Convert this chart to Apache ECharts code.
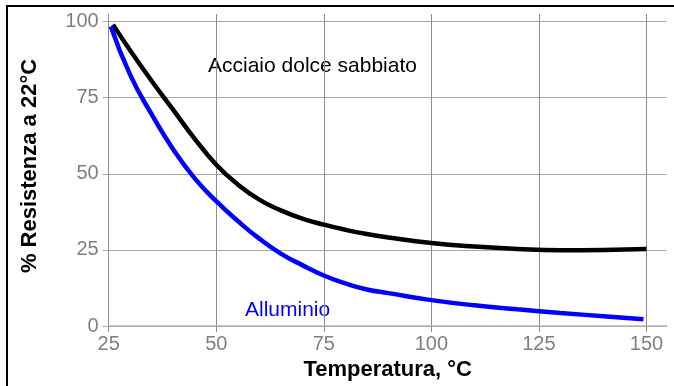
<!DOCTYPE html>
<html>
<head>
<meta charset="utf-8">
<script src="https://cdn.jsdelivr.net/npm/echarts@6/dist/echarts.min.js"></script>
<style>
	html, body { margin: 0; padding: 0; background: #fff; }
	#tuxing { width: 674px; height: 386px; }
</style>
</head>
<body>
<div id="tuxing"></div>
<script>
// temperature (°C) and % resistance at 22°C
var tempAcciaio = [26, 30, 35, 40, 45, 50, 55, 60, 65, 70, 75, 80, 85, 90, 100, 110, 120, 130, 140, 150];
var acciaio = [99, 90.5, 80.5, 71, 61.5, 53, 46.5, 41.5, 38, 35.3, 33.3, 31.6, 30.2, 29.1, 27.3, 26.1, 25.3, 24.9, 25, 25.3];

var tempAlluminio = [25.5, 30, 35, 40, 45, 50, 55, 60, 65, 70, 75, 80, 85, 90, 100, 110, 120, 130, 140, 149.3];
var alluminio = [98.4, 82.5, 69.5, 58, 48.5, 41, 34.5, 28.7, 23.8, 20, 16.6, 14, 12, 10.8, 8.5, 6.8, 5.5, 4.3, 3.2, 2.2];

var xTicks = [25, 50, 75, 100, 125, 150];
var yTicks = [0, 25, 50, 75, 100];

var font = 'Liberation Sans, Arial, sans-serif';

function pairs(xs, ys) {
	var out = [];
	for (var i = 0; i < xs.length; i++) {
		out.push([xs[i], ys[i]]);
	}
	return out;
}

var myChart = echarts.init(document.getElementById('tuxing'));

var option = {
	animation: false,
	grid: {
		left: 108.7,
		right: 7.3,
		top: 14,
		bottom: 57
	},
	xAxis: {
		type: 'value',
		min: 25,
		max: 154.7,
		name: 'Temperatura, °C',
		nameLocation: 'middle',
		nameGap: 33,
		nameTextStyle: {
			fontFamily: font,
			fontSize: 22,
			fontWeight: 'bold',
			color: '#000'
		},
		axisLine: { show: true, lineStyle: { color: '#b4b4b4', width: 1.5 } },
		axisTick: {
			show: true,
			length: 6,
			customValues: xTicks,
			lineStyle: { color: '#8c8c8c' }
		},
		axisLabel: {
			customValues: xTicks,
			margin: 8,
			fontFamily: font,
			fontSize: 20,
			color: '#7f7f7f'
		},
		splitLine: { show: true, lineStyle: { color: '#8c8c8c', width: 1 } }
	},
	yAxis: {
		type: 'value',
		min: 0,
		max: 102.5,
		axisLine: { show: true, lineStyle: { color: '#8c8c8c' } },
		axisTick: {
			show: true,
			length: 6,
			customValues: yTicks,
			lineStyle: { color: '#a8a8a8' }
		},
		axisLabel: {
			customValues: yTicks,
			margin: 10,
			fontFamily: font,
			fontSize: 20,
			color: '#7f7f7f'
		},
		splitLine: { show: true, lineStyle: { color: '#a8a8a8', width: 1 } }
	},
	graphic: [
		{
			type: 'rect',
			shape: { x: 7, y: 6, width: 720, height: 420 },
			style: { fill: null, stroke: '#000', lineWidth: 2 },
			silent: true
		},
		{
			type: 'text',
			x: 30,
			y: 166,
			rotation: Math.PI / 2,
			style: {
				text: '% Resistenza a 22°C',
				fontFamily: font,
				fontSize: 22,
				fontWeight: 'bold',
				fill: '#000',
				align: 'center',
				verticalAlign: 'middle'
			}
		},
		{
			type: 'text',
			x: 208,
			y: 66,
			style: {
				text: 'Acciaio dolce sabbiato',
				fontFamily: font,
				fontSize: 21,
				fill: '#000',
				align: 'left',
				verticalAlign: 'middle'
			}
		},
		{
			type: 'text',
			x: 245,
			y: 310,
			style: {
				text: 'Alluminio',
				fontFamily: font,
				fontSize: 21,
				fill: '#0000ff',
				align: 'left',
				verticalAlign: 'middle'
			}
		}
	],
	series: [
		{
			name: 'Acciaio dolce sabbiato',
			type: 'line',
			data: pairs(tempAcciaio, acciaio),
			smooth: 0.5,
			symbol: 'none',
			lineStyle: { color: '#000', width: 4.5 }
		},
		{
			name: 'Alluminio',
			type: 'line',
			data: pairs(tempAlluminio, alluminio),
			smooth: 0.5,
			symbol: 'none',
			lineStyle: { color: '#0000ff', width: 4.5 }
		}
	]
};

myChart.setOption(option);
</script>
</body>
</html>
